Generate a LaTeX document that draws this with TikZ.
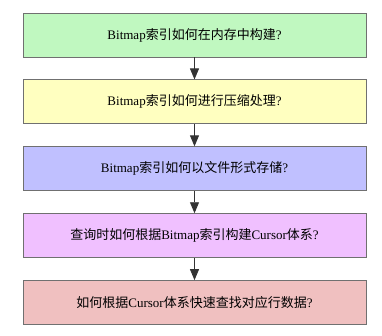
\documentclass[tikz,border=0pt]{standalone}
\usepackage{fontspec}
\setmainfont{Liberation Serif}
\newfontfamily\cjk{Noto Sans CJK SC}
\usepackage{tikz}
\usetikzlibrary{positioning,arrows.meta}
\definecolor{qGreen}{HTML}{C0F8C0}
\definecolor{qYellow}{HTML}{FFFFC0}
\definecolor{qBlue}{HTML}{C0C0FF}
\definecolor{qPink}{HTML}{F0C0FF}
\definecolor{qRed}{HTML}{F0C0C0}
\definecolor{qBorder}{HTML}{707070}
\definecolor{qArrow}{HTML}{333333}
\newcommand{\zh}[1]{{\cjk #1}}
\tikzset{
  q-box/.style={
    draw=qBorder, line width=0.9pt, fill=white,
    minimum width=343pt, minimum height=44pt, inner sep=0pt,
    font=\fontsize{13}{15}\selectfont, align=center
  },
  q-green/.style={q-box, fill=qGreen},
  q-yellow/.style={q-box, fill=qYellow},
  q-blue/.style={q-box, fill=qBlue},
  q-pink/.style={q-box, fill=qPink},
  q-red/.style={q-box, fill=qRed},
  q-flow/.style={-{Triangle[length=11pt,width=9pt]}, line width=0.9pt, draw=qArrow}
}
\begin{document}
\begin{tikzpicture}[node distance=22pt]
\useasboundingbox (0,0) rectangle (382pt,335pt);
\node[q-green] (build) at (194.5pt,300pt) {Bitmap\zh{索引如何在内存中构建}?};
\node[q-yellow, below=of build] (compress) {Bitmap\zh{索引如何进行压缩处理}?};
\node[q-blue, below=of compress] (store) {Bitmap\zh{索引如何以文件形式存储}?};
\node[q-pink, below=of store] (cursor)
  {\zh{查询时如何根据}Bitmap\zh{索引构建}Cursor\zh{体系}?};
\node[q-red, below=of cursor] (lookup)
  {\zh{如何根据}Cursor\zh{体系快速查找对应行数据}?};

\draw[q-flow] (build) -- (compress);
\draw[q-flow] (compress) -- (store);
\draw[q-flow] (store) -- (cursor);
\draw[q-flow] (cursor) -- (lookup);
\end{tikzpicture}
\end{document}
